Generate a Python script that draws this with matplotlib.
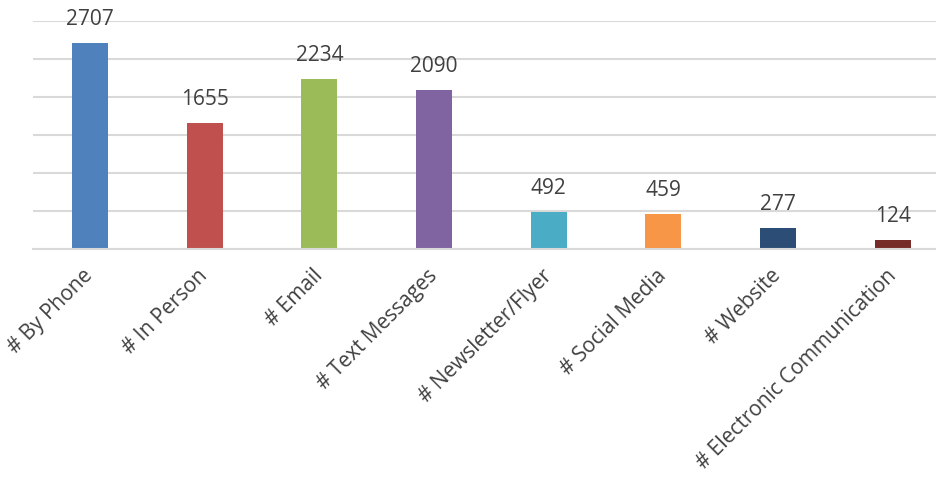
import matplotlib
matplotlib.use('Agg')
import matplotlib.pyplot as plt

categories = ['# By Phone', '# In Person', '# Email', '# Text Messages',
              '# Newsletter/Flyer', '# Social Media', '# Website',
              '# Electronic Communication']
counts = [2707, 1655, 2234, 2090, 492, 459, 277, 124]
bar_colors = ['#4f81bd', '#c0504d', '#9bbb59', '#8064a2',
              '#4bacc6', '#f79646', '#2c4d75', '#772c2a']

plt.rcParams['font.family'] = ['Open Sans', 'DejaVu Sans']

W, H = 937, 480
fig = plt.figure(figsize=(W / 100, H / 100), dpi=100)
# axes placed in pixels: left 33, baseline at y=249, top gridline at y=21
ax = fig.add_axes([33 / W, (H - 249) / H, (W - 33) / W, 228 / H])

x = list(range(len(categories)))
ax.bar(x, counts, width=0.314, color=bar_colors, zorder=3)

for xi, v in zip(x, counts):
    ax.annotate(str(v), (xi, v), xytext=(0, 13), textcoords='offset points',
                ha='center', va='baseline', fontsize=15, color='#404040',
                annotation_clip=False)

ax.set_xlim(-0.497, 7.385)
ax.set_ylim(0, 3000)
ax.set_yticks(range(0, 3001, 500))
ax.yaxis.grid(True, color='#d9d9d9', linewidth=1.5, zorder=0)
ax.tick_params(axis='y', left=False, labelleft=False)
ax.tick_params(axis='x', length=0, pad=17)
ax.set_xticks(x)
ax.set_xticklabels(categories, rotation=45, ha='right', va='center',
                   rotation_mode='anchor', fontsize=15, color='#404040')
for s in ['top', 'right', 'left']:
    ax.spines[s].set_visible(False)
ax.spines['bottom'].set_color('#d9d9d9')
ax.spines['bottom'].set_linewidth(1.5)
ax.spines['bottom'].set_zorder(4)

fig.savefig('out.png', dpi=100)
